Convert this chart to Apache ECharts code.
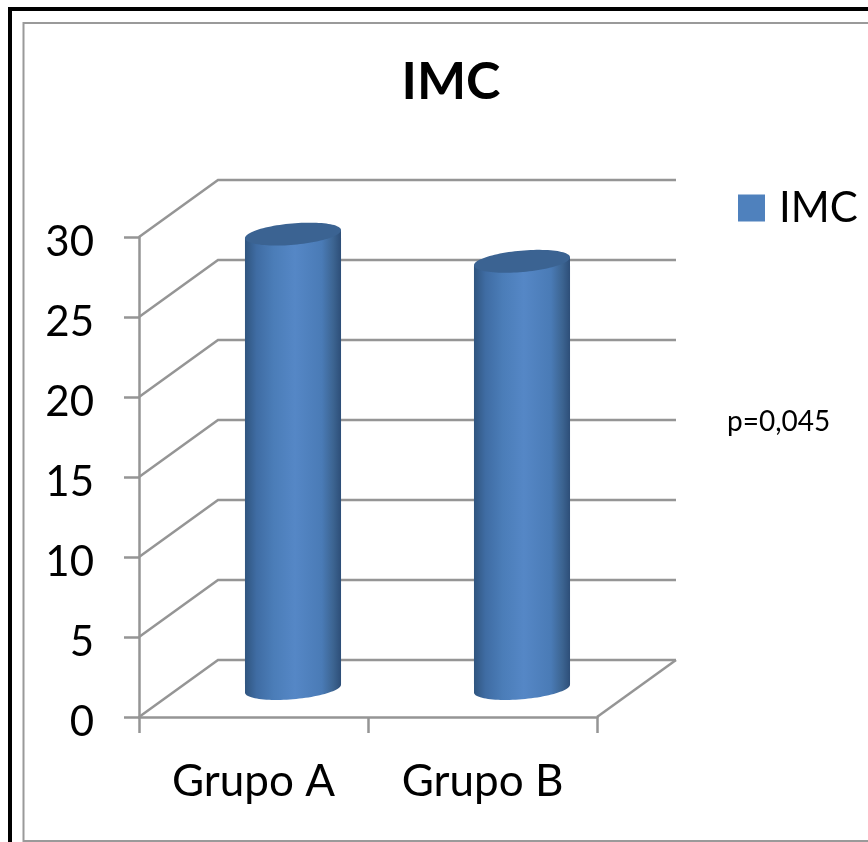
<!DOCTYPE html>
<html>
<head>
<meta charset="utf-8">
<style>html,body{margin:0;padding:0;background:#fff}#chart{width:868px;height:842px}</style>
<script src="https://cdn.jsdelivr.net/npm/echarts@6/dist/echarts.min.js"></script>
</head>
<body>
<div id="chart"></div>
<script>
// Body mass index per group
const categories = ['Grupo A', 'Grupo B'];
const imcValues = [28.4, 26.7];
const wallTicks = [0, 5, 10, 15, 20, 25, 30];
const seriesName = 'IMC';
const pValue = 'p=0,045';

// Oblique projection of the chart box
const DEPTH_X = 79;
const DEPTH_Y = -57;
const GRID_COLOR = '#959595';
const LINE_WIDTH = 2.5;
const TEXT_FONT = 'Lato';

const WALL_STYLE = { stroke: GRID_COLOR, lineWidth: LINE_WIDTH, fill: null };

// Back wall and side wall lines at one tick, plus the floor edge at zero
function renderWall(params, api) {
  const rect = params.coordSys;
  const y = api.coord([0, api.value(1)])[1];
  const x0 = rect.x;
  const x1 = rect.x + rect.width;
  const children = [{
    type: 'polyline',
    shape: { points: [[x0, y], [x0 + DEPTH_X, y + DEPTH_Y], [x1 + DEPTH_X, y + DEPTH_Y]] },
    style: WALL_STYLE
  }];
  if (api.value(1) === 0) {
    children.push({
      type: 'line',
      shape: { x1: x1, y1: y, x2: x1 + DEPTH_X, y2: y + DEPTH_Y },
      style: WALL_STYLE
    });
  }
  return { type: 'group', children: children };
}

// Point on an ellipse tilted by theta, with its right side raised
function ellipsePoint(c, a, b, theta, t) {
  return [
    c[0] + a * Math.cos(t) * Math.cos(theta) + b * Math.sin(t) * Math.sin(theta),
    c[1] - a * Math.cos(t) * Math.sin(theta) + b * Math.sin(t) * Math.cos(theta)
  ];
}

// Cylinder standing halfway into the box depth
function renderCylinder(params, api) {
  const band = api.size([1, 0])[0];
  const a = band * 0.2105;
  const b = 10.7;
  const theta = 0.0875;
  const mid = [DEPTH_X / 2, DEPTH_Y / 2];
  const baseRaw = api.coord([api.value(0), 0]);
  const topRaw = api.coord([api.value(0), api.value(1)]);
  const base = [baseRaw[0] + mid[0], baseRaw[1] + mid[1]];
  const top = [topRaw[0] + mid[0], topRaw[1] + mid[1]];
  const t0 = Math.atan2(b * Math.sin(theta), a * Math.cos(theta));

  const body = [ellipsePoint(top, a, b, theta, t0)];
  for (let i = 0; i <= 48; i++) {
    body.push(ellipsePoint(base, a, b, theta, t0 + Math.PI * i / 48));
  }
  body.push(ellipsePoint(top, a, b, theta, t0 + Math.PI));

  const cap = [];
  for (let i = 0; i < 96; i++) {
    cap.push(ellipsePoint(top, a, b, theta, Math.PI * i / 48));
  }

  return {
    type: 'group',
    children: [{
      type: 'polygon',
      shape: { points: body },
      style: {
        fill: new echarts.graphic.LinearGradient(0, 0, 1, 0, [
          { offset: 0, color: '#30557f' },
          { offset: 0.12, color: '#3f6ca3' },
          { offset: 0.3, color: '#4b7db8' },
          { offset: 0.52, color: '#5587c6' },
          { offset: 0.8, color: '#4a7bb6' },
          { offset: 0.92, color: '#3c6491' },
          { offset: 1, color: '#2d4e78' }
        ])
      }
    }, {
      type: 'polygon',
      shape: { points: cap },
      style: { fill: '#3b6392' }
    }]
  };
}

const chart = echarts.init(document.getElementById('chart'), null, { renderer: 'canvas' });

chart.setOption({
  animation: false,
  backgroundColor: '#ffffff',
  color: ['#4f81bd'],
  textStyle: { fontFamily: TEXT_FONT, color: '#000' },
  title: {
    text: seriesName,
    left: 446,
    top: 51,
    textAlign: 'center',
    textStyle: { fontFamily: TEXT_FONT, fontSize: 52, fontWeight: 'bold', color: '#000' }
  },
  legend: {
    data: [seriesName],
    left: 738,
    top: 187,
    padding: 0,
    itemWidth: 27,
    itemHeight: 27,
    itemGap: 0,
    icon: 'rect',
    selectedMode: false,
    textStyle: { fontFamily: TEXT_FONT, fontSize: 42, color: '#000', padding: [0, 0, 0, 9] }
  },
  grid: { left: 139, top: 237, width: 458, height: 480, containLabel: false },
  xAxis: {
    type: 'category',
    data: categories,
    axisLine: { lineStyle: { color: GRID_COLOR, width: LINE_WIDTH } },
    axisTick: { show: true, alignWithLabel: false, length: 16, lineStyle: { color: GRID_COLOR, width: LINE_WIDTH } },
    axisLabel: { fontFamily: TEXT_FONT, fontSize: 44, color: '#000', margin: 43 },
    splitLine: { show: false }
  },
  yAxis: {
    type: 'value',
    min: 0,
    max: 30,
    interval: 5,
    axisLine: { show: true, lineStyle: { color: GRID_COLOR, width: LINE_WIDTH } },
    axisTick: { show: true, length: 15, lineStyle: { color: GRID_COLOR, width: LINE_WIDTH } },
    axisLabel: {
      color: '#000',
      margin: 45,
      formatter: '{v|{value}}',
      rich: { v: { fontFamily: TEXT_FONT, fontSize: 42, color: '#000', padding: [10, 0, 0, 0] } }
    },
    splitLine: { show: false }
  },
  series: [{
    type: 'custom',
    silent: true,
    clip: false,
    z: 1,
    renderItem: renderWall,
    data: wallTicks.map(v => [0, v])
  }, {
    name: seriesName,
    type: 'custom',
    silent: true,
    clip: false,
    z: 3,
    itemStyle: { color: '#4f81bd' },
    renderItem: renderCylinder,
    data: imcValues.map((v, i) => [i, v])
  }],
  graphic: [
    // Page frame: heavy black edge and thin grey chart border
    { type: 'rect', silent: true, z: 10, shape: { x: 8, y: 7, width: 860, height: 4 }, style: { fill: '#000' } },
    { type: 'rect', silent: true, z: 10, shape: { x: 8, y: 7, width: 4, height: 835 }, style: { fill: '#000' } },
    { type: 'polyline', silent: true, z: 10,
      shape: { points: [[868, 23], [23.5, 23], [23.5, 841], [868, 841]] },
      style: { stroke: '#9a9a9a', lineWidth: 2, fill: null } },
    { type: 'text', silent: true, z: 10, x: 727, y: 408,
      style: { text: pValue, fontFamily: TEXT_FONT, fontSize: 28, fill: '#000' } }
  ]
});
</script>
</body>
</html>
